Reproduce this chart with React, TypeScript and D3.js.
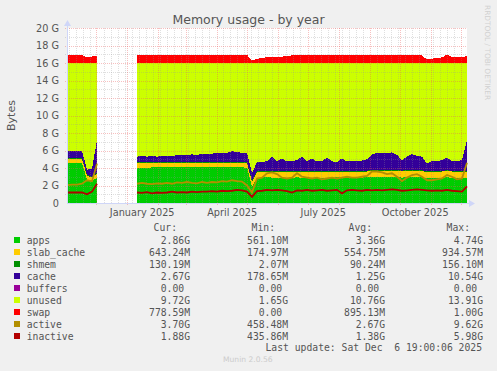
import React from 'react';
import * as d3 from 'd3';

// time axis: one sample every 5 days over the 400 day window
const endTime = new Date(Date.UTC(2025, 11, 6, 19, 0, 6));
const spanDays = 400;
const stepDays = 5;

// values in GB, null = no data
const apps = [
  4.6, 4.6, 4.62, 4.55, 2.7, 2.5, 2.9,
  null, null, null, null, null, null, null,
  3.97, 3.97, 3.98, 4.08, 4.08, 4.07, 4.08, 4.1, 4.08, 4.08,
  4.1, 4.08, 4.08, 4.1, 4.1, 4.08, 4.1, 4.1, 4.08, 4.1,
  4.08, 4.06, 4.05, 1.9, 2.85, 2.9, 2.95, 2.9, 2.9, 2.88,
  2.9, 2.9, 2.92, 2.9, 2.88, 2.9, 2.9, 2.88, 2.9, 2.9,
  2.92, 2.9, 2.9, 2.92, 2.9, 2.9, 2.95, 2.97, 3.0, 2.98,
  2.97, 3.0, 2.95, 2.9, 2.95, 2.97, 2.95, 2.92, 2.85, 2.88,
  2.9, 2.9, 2.92, 2.9, 2.88, 2.87, 2.86,
];
const slabCache = [
  0.45, 0.45, 0.43, 0.45, 0.45, 0.4, 0.5,
  null, null, null, null, null, null, null,
  0.57, 0.57, 0.56, 0.52, 0.52, 0.52, 0.52, 0.52, 0.52, 0.52,
  0.52, 0.52, 0.52, 0.52, 0.52, 0.52, 0.52, 0.52, 0.52, 0.52,
  0.52, 0.52, 0.52, 0.5, 0.65, 0.65, 0.65, 0.65, 0.65, 0.65,
  0.65, 0.65, 0.65, 0.65, 0.65, 0.65, 0.65, 0.65, 0.65, 0.65,
  0.65, 0.65, 0.65, 0.65, 0.65, 0.65, 0.65, 0.7, 0.7, 0.7,
  0.7, 0.7, 0.7, 0.7, 0.7, 0.7, 0.7, 0.7, 0.7, 0.7,
  0.7, 0.7, 0.7, 0.7, 0.7, 0.7, 0.64,
];
const shmem = [
  0.1, 0.1, 0.1, 0.1, 0.1, 0.1, 0.1,
  null, null, null, null, null, null, null,
  0.1, 0.1, 0.1, 0.1, 0.1, 0.1, 0.1, 0.1, 0.1, 0.1,
  0.1, 0.1, 0.1, 0.1, 0.1, 0.1, 0.1, 0.1, 0.1, 0.1,
  0.1, 0.1, 0.1, 0.1, 0.1, 0.1, 0.1, 0.1, 0.1, 0.1,
  0.1, 0.1, 0.1, 0.1, 0.1, 0.1, 0.1, 0.1, 0.1, 0.1,
  0.1, 0.1, 0.1, 0.1, 0.1, 0.1, 0.1, 0.1, 0.1, 0.1,
  0.1, 0.1, 0.1, 0.1, 0.1, 0.1, 0.1, 0.1, 0.1, 0.1,
  0.1, 0.1, 0.1, 0.1, 0.1, 0.1, 0.13,
];
const cache = [
  0.8, 0.8, 0.8, 0.85, 0.55, 0.9, 3.7,
  null, null, null, null, null, null, null,
  0.66, 0.71, 0.66, 0.65, 0.6, 0.66, 0.7, 0.68, 0.75, 0.8,
  0.78, 0.85, 0.8, 0.88, 0.88, 0.95, 0.98, 1.03, 1.0, 1.23,
  1.1, 1.07, 1.03, 0.9, 1.1, 1.0, 1.1, 1.7, 1.15, 1.47,
  1.1, 1.15, 1.23, 1.65, 1.17, 1.45, 1.1, 1.17, 1.55, 1.1,
  1.03, 1.45, 1.1, 1.13, 1.15, 1.2, 1.3, 1.83, 1.9, 1.97,
  1.93, 2.0, 1.75, 1.2, 1.55, 1.83, 1.65, 1.58, 0.85, 1.12,
  1.1, 1.2, 1.48, 1.1, 1.12, 1.23, 3.57,
];
const buffers = [
  0, 0, 0, 0, 0, 0, 0,
  null, null, null, null, null, null, null,
  0, 0, 0, 0, 0, 0, 0, 0, 0, 0,
  0, 0, 0, 0, 0, 0, 0, 0, 0, 0,
  0, 0, 0, 0, 0, 0, 0, 0, 0, 0,
  0, 0, 0, 0, 0, 0, 0, 0, 0, 0,
  0, 0, 0, 0, 0, 0, 0, 0, 0, 0,
  0, 0, 0, 0, 0, 0, 0, 0, 0, 0,
  0, 0, 0, 0, 0, 0, 0,
];
const unused = [
  10.05, 10.05, 10.05, 10.05, 12.2, 12.1, 8.8,
  null, null, null, null, null, null, null,
  10.7, 10.65, 10.7, 10.65, 10.7, 10.65, 10.6, 10.6, 10.55, 10.5,
  10.5, 10.45, 10.5, 10.4, 10.4, 10.35, 10.3, 10.25, 10.3, 10.05,
  10.2, 10.25, 10.3, 12.6, 11.3, 11.35, 11.2, 10.65, 11.2, 10.9,
  11.25, 11.2, 11.1, 10.7, 11.2, 10.9, 11.25, 11.2, 10.8, 11.25,
  11.3, 10.9, 11.25, 11.2, 11.2, 11.15, 11.0, 10.4, 10.3, 10.25,
  10.3, 10.2, 10.5, 11.1, 10.7, 10.4, 10.6, 10.7, 11.5, 11.2,
  11.2, 11.1, 10.8, 11.2, 11.2, 11.1, 8.8,
];
const swap = [
  0.9, 0.92, 0.9, 0.9, 0.65, 0.75, 0.85,
  null, null, null, null, null, null, null,
  0.92, 0.92, 0.92, 0.92, 0.92, 0.92, 0.92, 0.92, 0.92, 0.92,
  0.92, 0.92, 0.92, 0.92, 0.92, 0.92, 0.92, 0.92, 0.92, 0.92,
  0.92, 0.92, 0.92, 0.3, 0.45, 0.6, 0.65, 0.7, 0.7, 0.72,
  0.8, 0.88, 0.9, 0.92, 0.9, 0.9, 0.92, 0.92, 0.9, 0.92,
  0.92, 0.92, 0.9, 0.92, 0.92, 0.92, 0.92, 0.92, 0.92, 0.92,
  0.92, 0.92, 0.92, 0.92, 0.92, 0.92, 0.92, 0.85, 0.4, 0.5,
  0.55, 0.65, 0.95, 0.7, 0.72, 0.7, 0.78,
];
const active = [
  2.05, 2.1, 2.1, 2.2, 2.6, 2.5, 4.5,
  null, null, null, null, null, null, null,
  2.2, 2.3, 2.2, 2.15, 2.25, 2.2, 2.3, 2.2, 2.35, 2.3,
  2.4, 2.3, 2.25, 2.4, 2.3, 2.4, 2.35, 2.5, 2.45, 2.6,
  2.5, 2.45, 2.0, 1.2, 2.8, 2.9, 3.4, 3.5, 3.3, 2.9,
  2.8, 2.9, 3.4, 3.0, 2.9, 2.8, 2.9, 2.7, 2.8, 2.9,
  2.8, 2.9, 3.0, 2.9, 2.9, 3.0, 3.1, 3.6, 3.6, 3.5,
  3.3, 3.4, 3.0, 2.5, 2.9, 3.2, 3.3, 3.0, 2.6, 2.6,
  2.7, 2.8, 3.2, 3.0, 2.7, 2.8, 4.6,
];
const inactive = [
  1.2, 1.2, 1.22, 1.2, 1.0, 1.3, 2.2,
  null, null, null, null, null, null, null,
  1.2, 1.15, 1.25, 1.1, 1.2, 1.15, 1.2, 1.3, 1.2, 1.25,
  1.2, 1.3, 1.25, 1.3, 1.3, 1.35, 1.3, 1.4, 1.35, 1.4,
  1.5, 1.45, 1.3, 0.7, 1.35, 1.4, 1.5, 1.45, 1.5, 1.45,
  1.35, 1.2, 1.45, 1.4, 1.5, 1.4, 1.45, 1.5, 1.4, 1.45,
  1.5, 1.1, 1.45, 1.5, 1.45, 1.4, 1.5, 1.45, 1.5, 1.45,
  1.5, 1.55, 1.5, 1.4, 1.45, 1.5, 1.55, 1.5, 1.45, 1.4,
  1.45, 1.4, 1.5, 1.4, 1.35, 1.3, 1.9,
];

const seriesNames = ['apps', 'slab_cache', 'shmem', 'cache', 'buffers', 'unused', 'swap', 'active', 'inactive'];
const seriesColors = ['#00CC00', '#FFCC00', '#008F00', '#330099', '#990099', '#CCFF00', '#FF0000', '#B38F00', '#B30000'];
const curValues = ['2.86G', '643.24M', '130.19M', '2.67G', '0.00', '9.72G', '778.59M', '3.70G', '1.88G'];
const minValues = ['561.10M', '174.97M', '2.07M', '178.65M', '0.00', '1.65G', '0.00', '458.48M', '435.86M'];
const avgValues = ['3.36G', '554.75M', '90.24M', '1.25G', '0.00', '10.76G', '895.13M', '2.67G', '1.38G'];
const maxValues = ['4.74G', '934.57M', '156.10M', '10.54G', '0.00', '13.91G', '1.00G', '9.62G', '5.98G'];

const yTicks = [0, 2, 4, 6, 8, 10, 12, 14, 16, 18, 20];
const yTickLabels = ['0', '2 G', '4 G', '6 G', '8 G', '10 G', '12 G', '14 G', '16 G', '18 G', '20 G'];
const xTickMonths = [[2025, 0], [2025, 3], [2025, 6], [2025, 9]];
const xTickLabels = ['January 2025', 'April 2025', 'July 2025', 'October 2025'];

const W = 497;
const H = 371;
const L = 67, R = 467, T = 28, B = 203;
const DAY = 86400000;

const sans = '"DejaVu Sans", sans-serif';
const mono = '"DejaVu Sans Mono", monospace';
const textColor = '#555555';
const axisColor = '#CFD6F8';
const majorGrid = 'rgba(235,90,90,0.38)';
const minorGrid = 'rgba(150,150,150,0.3)';

export default function App() {
  const start = new Date(endTime.getTime() - spanDays * DAY);
  const x = d3.scaleTime().domain([start, endTime]).range([L, R]);
  const y = d3.scaleLinear().domain([0, 20]).range([B, T]);

  const table = apps.map((v, i) => ({
    date: new Date(start.getTime() + i * stepDays * DAY),
    valid: v !== null,
    apps: v ?? 0,
    slab_cache: slabCache[i] ?? 0,
    shmem: shmem[i] ?? 0,
    cache: cache[i] ?? 0,
    buffers: buffers[i] ?? 0,
    unused: unused[i] ?? 0,
    swap: swap[i] ?? 0,
  }));

  const stackKeys = seriesNames.slice(0, 7);
  const stacked = d3.stack<any>().keys(stackKeys)(table);

  const area = d3.area<any>()
    .defined((d) => d.data.valid)
    .x((d) => x(d.data.date))
    .y0((d) => y(d[0]))
    .y1((d) => y(d[1]));

  const line = d3.line<any>()
    .defined((d) => d.v !== null)
    .x((d) => x(d.date))
    .y((d) => y(d.v));

  const activePts = active.map((v, i) => ({ date: table[i].date, v }));
  const inactivePts = inactive.map((v, i) => ({ date: table[i].date, v }));

  const months = d3.utcMonth.range(d3.utcMonth.ceil(start), endTime);
  const monthX = months.map((m) => Math.round(x(m)));
  const weeks = d3.utcMonday.range(start, endTime)
    .map((w) => Math.round(x(w)))
    .filter((wx) => wx > L && monthX.every((mx) => Math.abs(mx - wx) > 1));

  const minorY = d3.range(1, 20, 2);

  const colRight = [190, 288, 385, 483];
  const headers = ['Cur:', 'Min:', 'Avg:', 'Max:'];
  const pad = (s: string) => (/[0-9]$/.test(s) ? s + ' ' : s);

  return (
    <svg width={W} height={H} style={{ position: 'absolute', left: 0, top: 0 }}>
      <rect width={W} height={H} fill="#F0F0F0" />
      <rect x={L} y={T} width={R - L} height={B - T} fill="#FFFFFF" />

      {stacked.map((s, i) => (
        <path key={s.key} d={area(s) ?? ''} fill={seriesColors[i]} shapeRendering="crispEdges" />
      ))}

      {/* grid */}
      <g strokeDasharray="1,1" strokeWidth={1} shapeRendering="crispEdges">
        {minorY.map((v) => (
          <line key={'my' + v} x1={L - 2} x2={R} y1={Math.round(y(v)) + 0.5} y2={Math.round(y(v)) + 0.5} stroke={minorGrid} />
        ))}
        {weeks.map((wx) => (
          <line key={'w' + wx} x1={wx + 0.5} x2={wx + 0.5} y1={T} y2={B} stroke={minorGrid} />
        ))}
        {yTicks.slice(1).map((v) => (
          <line key={'My' + v} x1={L - 2} x2={R} y1={Math.round(y(v)) + 0.5} y2={Math.round(y(v)) + 0.5} stroke={majorGrid} />
        ))}
        {monthX.map((mx) => (
          <line key={'m' + mx} x1={mx + 0.5} x2={mx + 0.5} y1={T} y2={B + 2} stroke={majorGrid} />
        ))}
      </g>

      <path d={line(activePts) ?? ''} fill="none" stroke={seriesColors[7]} strokeWidth={1.8} />
      <path d={line(inactivePts) ?? ''} fill="none" stroke={seriesColors[8]} strokeWidth={1.8} />

      {/* axes */}
      <line x1={L + 0.5} x2={L + 0.5} y1={B} y2={T - 3} stroke={axisColor} />
      <line x1={L} x2={R + 3} y1={B + 0.5} y2={B + 0.5} stroke={axisColor} />
      <path d={`M${L - 3},${T - 2} L${L + 0.5},${T - 8} L${L + 4},${T - 2} Z`} fill={axisColor} />
      <path d={`M${R + 2},${B - 3} L${R + 8},${B + 0.5} L${R + 2},${B + 4} Z`} fill={axisColor} />

      {/* y labels */}
      {yTicks.map((v, i) => (
        <text key={'yl' + v} x={59} y={y(v) + 3.5} textAnchor="end" fontFamily={sans} fontSize={9.72} fill={textColor}>
          {yTickLabels[i]}
        </text>
      ))}

      {/* x labels */}
      {xTickMonths.map(([yr, mo], i) => (
        <text key={'xl' + i} x={x(new Date(Date.UTC(yr, mo, 1) + 15 * DAY))} y={216} textAnchor="middle" fontFamily={sans} fontSize={9.72} fill={textColor}>
          {xTickLabels[i]}
        </text>
      ))}

      <text x={248.5} y={24} textAnchor="middle" fontFamily={sans} fontSize={12.5} fill={textColor}>
        Memory usage - by year
      </text>
      <text transform={`translate(15,115.5) rotate(-90)`} textAnchor="middle" fontFamily={sans} fontSize={11} fill={textColor}>
        Bytes
      </text>
      <text transform={`translate(485,5) rotate(90)`} fontFamily={sans} fontSize={7.4} fill="#D0D0D0">
        RRDTOOL / TOBI OETIKER
      </text>

      {/* legend */}
      {headers.map((h, c) => (
        <text key={h} x={colRight[c] - 13} y={230.5} textAnchor="end" fontFamily={mono} fontSize={9.72} fill={textColor}>
          {h}
        </text>
      ))}
      {seriesNames.map((name, i) => {
        const cy = 240 + i * 12;
        const vals = [curValues[i], minValues[i], avgValues[i], maxValues[i]];
        return (
          <g key={name}>
            <rect x={14} y={cy - 3} width={6} height={6} fill={seriesColors[i]} />
            <text x={26.7} y={cy + 3.5} fontFamily={mono} fontSize={9.72} fill={textColor}>
              {name}
            </text>
            {vals.map((v, c) => (
              <text key={c} x={colRight[c]} y={cy + 3.5} textAnchor="end" fontFamily={mono} fontSize={9.72} fill={textColor} style={{ whiteSpace: 'pre' }}>
                {pad(v)}
              </text>
            ))}
          </g>
        );
      })}
      <text x={482} y={350.5} textAnchor="end" fontFamily={mono} fontSize={9.72} fill={textColor} style={{ whiteSpace: 'pre' }}>
        {'Last update: Sat Dec  6 19:00:06 2025'}
      </text>
      <text x={223} y={362} fontFamily={sans} fontSize={7.6} fill="#CCCCCC">
        Munin 2.0.56
      </text>
    </svg>
  );
}
